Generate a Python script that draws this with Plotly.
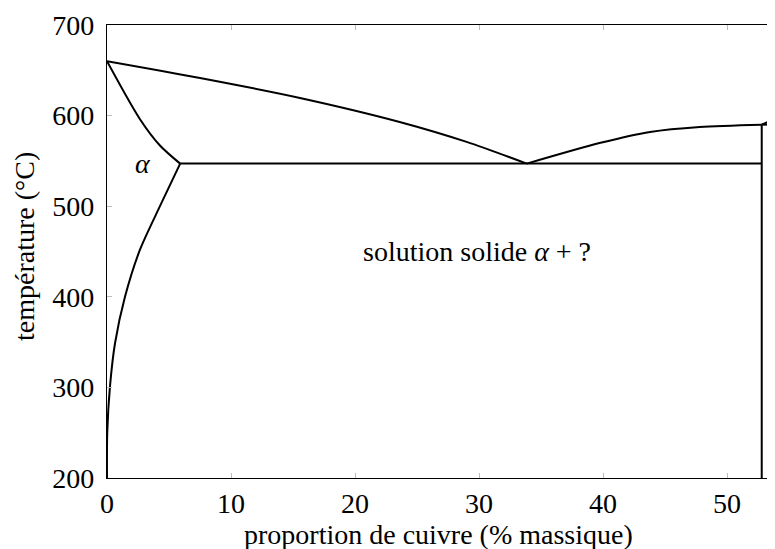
import plotly.graph_objects as go

# Liquidus (left branch): Al melting point to eutectic
liq_left_x = [0, 7.5, 15.56, 23.6, 29.0, 33.85]
liq_left_y = [660, 641.5, 619.5, 593, 571, 547]
# Liquidus (right branch): eutectic to theta phase
liq_right_x = [33.85, 39.8, 43.8, 47.8, 52.8]
liq_right_y = [547, 570, 582, 587.5, 590]
# Solidus of alpha
solidus_x = [0, 2.66, 4.27, 5.9]
solidus_y = [660, 596, 567, 547]
# Solvus of alpha
solvus_x = [0, 0.02, 0.24, 0.65, 1.45, 2.66, 4.27, 5.9]
solvus_y = [200, 250, 301, 349, 400, 452, 500, 547]
# Eutectic isotherm
eut_x = [5.9, 52.8]
eut_y = [547, 547]
# Theta phase boundary (vertical) and upper lines
theta_x = [52.8, 52.8]
theta_y = [200, 590]
theta_top_x = [52.8, 54]
theta_top_y = [590, 590]
theta_rise_x = [52.8, 54]
theta_rise_y = [590, 597]

x_ticks = [0, 10, 20, 30, 40, 50]
y_ticks = [200, 300, 400, 500, 600, 700]

FONT = "Liberation Serif"
FS = 28

fig = go.Figure()
for xs, ys, shp in [(liq_left_x, liq_left_y, "spline"), (liq_right_x, liq_right_y, "spline"),
                    (solidus_x, solidus_y, "spline"), (solvus_x, solvus_y, "spline"),
                    (eut_x, eut_y, "linear"), (theta_x, theta_y, "linear"),
                    (theta_top_x, theta_top_y, "linear"), (theta_rise_x, theta_rise_y, "linear")]:
    fig.add_trace(go.Scatter(x=xs, y=ys, mode="lines",
                             line=dict(color="black", width=2, shape=shp, smoothing=0.8),
                             showlegend=False, hoverinfo="skip"))

fig.add_annotation(x=2.9, y=547, text="<i>α</i>", showarrow=False,
                   font=dict(family=FONT, size=FS, color="black"))
fig.add_annotation(x=29.8, y=450, text="solution solide <i>α</i> + ?", showarrow=False,
                   font=dict(family=FONT, size=FS, color="black"))
# axis titles
fig.add_annotation(x=0.497, y=0, xref="paper", yref="paper", yshift=-56, yanchor="middle",
                   text="proportion de cuivre (% massique)", showarrow=False,
                   font=dict(family=FONT, size=FS, color="black"))
fig.add_annotation(x=0, y=0.51, xref="paper", yref="paper", xshift=-82, xanchor="center",
                   text="température (°C)", textangle=-90, showarrow=False,
                   font=dict(family=FONT, size=FS, color="black"))

fig.update_layout(
    width=775, height=549,
    margin=dict(l=99, r=8, t=17, b=79, autoexpand=False),
    plot_bgcolor="white", paper_bgcolor="white",
    font=dict(family=FONT, size=FS, color="black"),
)
fig.update_xaxes(range=[0, 53.87], tickvals=x_ticks, showgrid=False, zeroline=False,
                 showline=True, linecolor="black", linewidth=1.3, mirror="ticks",
                 ticks="inside", ticklen=5, tickcolor="#bbbbbb", tickwidth=1,
                 automargin=False, ticklabelstandoff=0)
fig.update_yaxes(range=[200, 700], tickvals=y_ticks, showgrid=False, zeroline=False,
                 showline=True, linecolor="black", linewidth=1.3, mirror="ticks",
                 ticks="inside", ticklen=5, tickcolor="#bbbbbb", tickwidth=1,
                 automargin=False, ticklabelstandoff=6)

fig.write_html("out.html")
